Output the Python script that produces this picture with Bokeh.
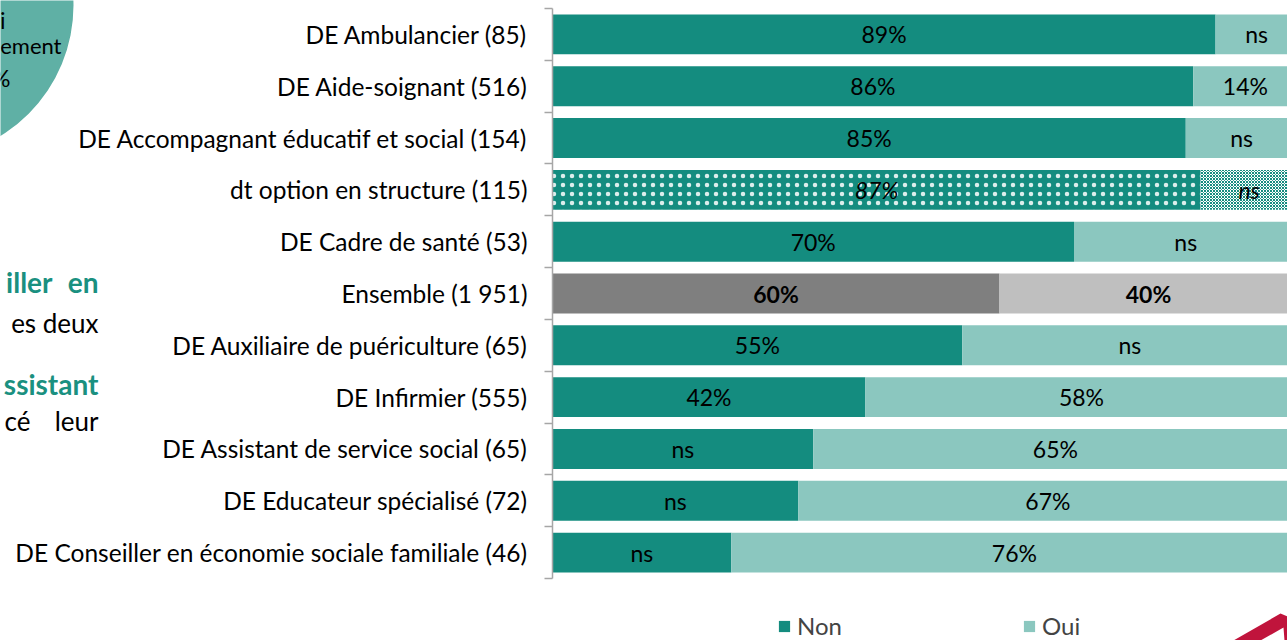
import numpy as np
from bokeh.plotting import figure
from bokeh.models import (ColumnDataSource, Range1d, FixedTicker, Legend, LegendItem, GridBox)
from bokeh.embed import file_html
from bokeh.resources import INLINE
from bokeh.core.properties import value

# ---------------- data ----------------
categories = [
    "DE Ambulancier (85)",
    "DE Aide-soignant (516)",
    "DE Accompagnant éducatif et social (154)",
    "dt option en structure (115)",
    "DE Cadre de santé (53)",
    "Ensemble (1 951)",
    "DE Auxiliaire de puériculture (65)",
    "DE Infirmier (555)",
    "DE Assistant de service social (65)",
    "DE Educateur spécialisé (72)",
    "DE Conseiller en économie sociale familiale (46)",
]
non = [89, 86, 85, 87, 70, 60, 55, 42, 35, 33, 24]
oui = [11, 14, 15, 13, 30, 40, 45, 58, 65, 67, 76]
non_labels = ["89%", "86%", "85%", "87%", "70%", "60%", "55%", "42%", "ns", "ns", "ns"]
oui_labels = ["ns", "14%", "ns", "ns", "ns", "40%", "ns", "58%", "65%", "67%", "76%"]
series = ["Non", "Oui"]
total_row = "Ensemble (1 951)"
sub_row = "dt option en structure (115)"

# ---------------- styles ----------------
TEAL = "#148c7f"
LIGHT = "#8bc7bf"
GRAY_D = "#7f7f7f"
GRAY_L = "#bfbfbf"
FONT = "Lato"
W, H = 1287, 640
FRAME_L = 552          # frame left (px)
ROWS_TOP, ROWS_BOT = 8, 578   # where the category band lies (px)
PX_PER_UNIT = 745      # px for 100 %

n = len(categories)
ypos = list(range(1, n + 1))

non_fill, oui_fill, non_hatch, oui_hatch, oui_hcol, styles = [], [], [], [], [], []
for c in categories:
    if c == total_row:
        non_fill.append(GRAY_D); oui_fill.append(GRAY_L)
        non_hatch.append(" "); oui_hatch.append(" "); oui_hcol.append(GRAY_L)
        styles.append("bold")
    elif c == sub_row:
        non_fill.append(TEAL); oui_fill.append("#ffffff")
        non_hatch.append("."); oui_hatch.append("x"); oui_hcol.append(TEAL)
        styles.append("italic")
    else:
        non_fill.append(TEAL); oui_fill.append(LIGHT)
        non_hatch.append(" "); oui_hatch.append(" "); oui_hcol.append(LIGHT)
        styles.append("normal")

src = ColumnDataSource(dict(
    y=ypos,
    non_l=[0.0] * n,
    non_r=[v / 100 for v in non],
    oui_l=[v / 100 for v in non],
    oui_r=[(a + b) / 100 for a, b in zip(non, oui)],
    non_mid=[v / 200 for v in non],
    oui_mid=[(2 * a + b) / 200 for a, b in zip(non, oui)],
    non_lab=non_labels,
    oui_lab=oui_labels,
    non_fill=non_fill, oui_fill=oui_fill,
    non_hatch=non_hatch, oui_hatch=oui_hatch, oui_hcol=oui_hcol,
    style=styles,
))

row_px = (ROWS_BOT - ROWS_TOP) / n
y_top = 0.5 - ROWS_TOP / row_px
y_bot = n + 0.5 + (H - ROWS_BOT) / row_px

p = figure(width=W, height=H, output_backend="svg", toolbar_location=None,
           x_range=Range1d(0, (W - FRAME_L) / PX_PER_UNIT), y_range=Range1d(y_bot, y_top),
           x_axis_location=None, min_border_left=FRAME_L, min_border_right=0,
           min_border_top=0, min_border_bottom=0)
p.frame_align = False
p.outline_line_color = None
p.grid.visible = False
p.background_fill_color = None
p.border_fill_color = None

r_non = p.hbar(y="y", left="non_l", right="non_r", height=0.77, source=src,
               fill_color="non_fill", line_color=None,
               hatch_pattern="non_hatch", hatch_color="white", hatch_alpha=0.85,
               hatch_scale=9, hatch_weight=0.7)
r_oui = p.hbar(y="y", left="oui_l", right="oui_r", height=0.77, source=src,
               fill_color="oui_fill", line_color=None,
               hatch_pattern="oui_hatch", hatch_color="oui_hcol",
               hatch_scale=3, hatch_weight=1.0)

p.text(x="non_mid", y="y", text="non_lab", source=src, text_align="center",
       text_baseline="middle", text_font=value(FONT), text_font_size="23px",
       text_font_style="style", text_color="#000000")
p.text(x="oui_mid", y="y", text="oui_lab", source=src, text_align="center",
       text_baseline="middle", text_font=value(FONT), text_font_size="23px",
       text_font_style="style", text_color="#000000")

# y axis: labels at centres, ticks at category boundaries
ax = p.yaxis[0]
ax.ticker = FixedTicker(ticks=ypos, minor_ticks=[i + 0.5 for i in range(n + 1)])
ax.major_label_overrides = {i: c for i, c in zip(ypos, categories)}
ax.bounds = (0.5, n + 0.5)
ax.major_tick_out = 0
ax.major_tick_in = 0
ax.minor_tick_out = 8
ax.minor_tick_in = 0
ax.minor_tick_line_color = "#a6a6a6"
ax.minor_tick_line_width = 1.5
ax.axis_line_color = "#a6a6a6"
ax.axis_line_width = 1.5
ax.major_label_standoff = 17
ax.major_label_text_font = FONT
ax.major_label_text_font_size = "24.5px"
ax.major_label_text_color = "#000000"

legend = Legend(items=[LegendItem(label=series[0], renderers=[r_non], index=0),
                       LegendItem(label=series[1], renderers=[r_oui], index=0)],
                location=(225, 0), orientation="horizontal",
                label_text_font=FONT, label_text_font_size="24px",
                glyph_width=14, glyph_height=14, label_standoff=6,
                label_width=205, spacing=20, padding=0, margin=0,
                border_line_color=None, background_fill_alpha=0)
p.add_layout(legend)

# ---------------- fragments of the surrounding slide (page px) ----------------
deco = figure(width=W, height=H, output_backend="svg", toolbar_location=None,
              x_range=Range1d(0, W), y_range=Range1d(H, 0),
              x_axis_location=None, y_axis_location=None,
              min_border=0)
deco.frame_align = False
deco.outline_line_color = None
deco.grid.visible = False
deco.background_fill_color = "white"
deco.border_fill_color = "white"

deco.circle(x=[-80], y=[5], radius=153, fill_color="#5fb0a5", line_color=None)

def frag(txt, right_x, mid_y, color="#000000", style="normal", size="22px"):
    deco.text(x=[right_x], y=[mid_y], text=[txt], text_align="right", text_baseline="middle",
              text_font=value(FONT), text_font_size=size, text_color=color,
              text_font_style=style)

GREEN_TXT = "#1a9080"
frag("i", 5, 19, size="23px")
frag("ement", 61, 45, size="22px")
frag("%", 10, 77, size="23px")
frag("iller", 52, 281, color=GREEN_TXT, style="bold", size="28px")
frag("en", 98, 281, color=GREEN_TXT, style="bold", size="28px")
frag("es deux", 98, 322, size="26px")
frag("ssistant", 98, 383, color=GREEN_TXT, style="bold", size="28px")
frag("cé", 30, 420, size="26px")
frag("leur", 98, 420, size="26px")

deco.patch(x=[1233, 1280, 1287, 1287, 1284, 1283, 1260],
           y=[640, 613, 616, 640, 640, 627, 640],
           fill_color="#c0143c", line_color=None)

layout = GridBox(children=[(deco, 0, 0), (p, 0, 0)])
open("out.html", "w").write(file_html(layout, INLINE))
